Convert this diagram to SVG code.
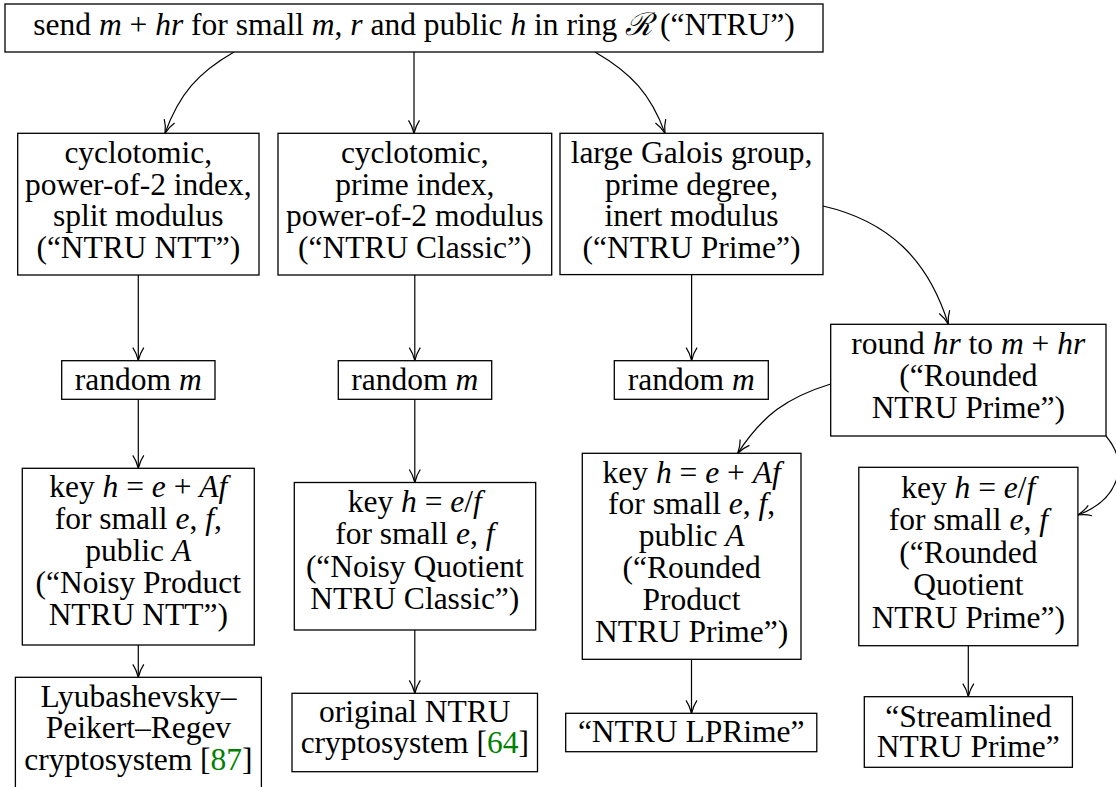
<svg xmlns="http://www.w3.org/2000/svg" width="1116" height="787" viewBox="0 0 1116 787" font-family="'Liberation Serif', 'Times New Roman', Tinos, 'DejaVu Serif', serif">
<style>
rect{fill:#fff;stroke:#000;stroke-width:1.3}
text{font-family:'Liberation Serif','Times New Roman',Tinos,'DejaVu Serif',serif;font-size:31.5px;fill:#000;text-anchor:middle}
.m{font-style:italic}
.cal{font-family:'DejaVu Serif','Liberation Serif',serif;font-style:italic}
.cite{fill:#008000}
.c{fill:none;stroke:#000;stroke-width:1.2}
</style>
<defs>
<marker id="arr" markerUnits="userSpaceOnUse" markerWidth="18" markerHeight="16" viewBox="-15 -8 18 16" refX="0" refY="0" orient="auto">
<path d="M -13 -5.5 C -8 -2 -2.5 -0.6 0 0 C -2.5 0.6 -8 2 -13 5.5" fill="none" stroke="#000" stroke-width="1.2"/>
</marker>
</defs>
<g id="connectors">
<path class="c" marker-end="url(#arr)" d="M234 52 C198 72.7 179.2 94 165 133.3"/>
<path class="c" marker-end="url(#arr)" d="M414 52 L414 133.3"/>
<path class="c" marker-end="url(#arr)" d="M595 52 C631 72.9 650.7 93.8 665 133.3"/>
<path class="c" marker-end="url(#arr)" d="M138.3 275 L138.3 360.7"/>
<path class="c" marker-end="url(#arr)" d="M138.3 399.3 L138.3 468.3"/>
<path class="c" marker-end="url(#arr)" d="M138.3 645 L138.3 677.3"/>
<path class="c" marker-end="url(#arr)" d="M414.8 275 L414.8 360.7"/>
<path class="c" marker-end="url(#arr)" d="M414.8 399.3 L414.8 482.5"/>
<path class="c" marker-end="url(#arr)" d="M414.8 630 L414.8 693.3"/>
<path class="c" marker-end="url(#arr)" d="M691.6 274.6 L691.6 360.7"/>
<path class="c" marker-end="url(#arr)" d="M691.5 659.3 L691.5 713.3"/>
<path class="c" marker-end="url(#arr)" d="M968.3 645.7 L968.3 696.7"/>
<path class="c" marker-end="url(#arr)" d="M823 206 C888.6 221 928.3 259.6 948.3 324.3"/>
<path class="c" marker-end="url(#arr)" d="M830.7 384 C787.3 397.3 762.4 415.2 737.7 453.3"/>
<path class="c" marker-end="url(#arr)" d="M1106 436 C1131.7 466.6 1115.6 501.3 1077.9 515"/>
</g>
<g id="n-top">
<rect x="5" y="4" width="818" height="48"/>
<text x="414" y="35">send <tspan class="m">m</tspan> + <tspan class="m">hr</tspan> for small <tspan class="m">m</tspan>, <tspan class="m">r</tspan> and public <tspan class="m">h</tspan> in ring <tspan class="cal">ℛ</tspan> (“NTRU”)</text>
</g>
<g id="n-ntt">
<rect x="17.7" y="133.3" width="241.3" height="141.7"/>
<text x="138.3" y="163">cyclotomic,</text>
<text x="138.3" y="194.5">power-of-2 index,</text>
<text x="138.3" y="226">split modulus</text>
<text x="138.3" y="257.5">(“NTRU NTT”)</text>
</g>
<g id="n-classic">
<rect x="278" y="133.3" width="273.7" height="141.7"/>
<text x="414.8" y="163">cyclotomic,</text>
<text x="414.8" y="194.5">prime index,</text>
<text x="414.8" y="226">power-of-2 modulus</text>
<text x="414.8" y="257.5">(“NTRU Classic”)</text>
</g>
<g id="n-prime">
<rect x="560" y="133.3" width="263" height="141.3"/>
<text x="691.5" y="163">large Galois group,</text>
<text x="691.5" y="194.5">prime degree,</text>
<text x="691.5" y="226">inert modulus</text>
<text x="691.5" y="257.5">(“NTRU Prime”)</text>
</g>
<g id="n-rand1">
<rect x="61.7" y="360.7" width="153.3" height="38.6"/>
<text x="138.3" y="390">random <tspan class="m">m</tspan></text>
</g>
<g id="n-rand2">
<rect x="338.3" y="360.7" width="153.4" height="38.6"/>
<text x="414.8" y="390">random <tspan class="m">m</tspan></text>
</g>
<g id="n-rand3">
<rect x="614.3" y="360.7" width="154" height="38.6"/>
<text x="691.3" y="390">random <tspan class="m">m</tspan></text>
</g>
<g id="n-round">
<rect x="830.7" y="324.3" width="275.3" height="111.7"/>
<text x="968.3" y="354">round <tspan class="m">hr</tspan> to <tspan class="m">m</tspan> + <tspan class="m">hr</tspan></text>
<text x="968.3" y="386">(“Rounded</text>
<text x="968.3" y="418">NTRU Prime”)</text>
</g>
<g id="n-key1">
<rect x="22.3" y="468.3" width="232" height="176.7"/>
<text x="138.3" y="497">key <tspan class="m">h</tspan> = <tspan class="m">e</tspan> + <tspan class="m">Af</tspan></text>
<text x="138.3" y="529">for small <tspan class="m">e</tspan>, <tspan class="m">f</tspan>,</text>
<text x="138.3" y="561">public <tspan class="m">A</tspan></text>
<text x="138.3" y="593">(“Noisy Product</text>
<text x="138.3" y="625">NTRU NTT”)</text>
</g>
<g id="n-key2">
<rect x="294.3" y="482.5" width="241.4" height="147.5"/>
<text x="414.8" y="512">key <tspan class="m">h</tspan> = <tspan class="m">e</tspan>/<tspan class="m">f</tspan></text>
<text x="414.8" y="544">for small <tspan class="m">e</tspan>, <tspan class="m">f</tspan></text>
<text x="414.8" y="576.5">(“Noisy Quotient</text>
<text x="414.8" y="609">NTRU Classic”)</text>
</g>
<g id="n-key3">
<rect x="582.3" y="453.3" width="218.7" height="206"/>
<text x="691.6" y="482.5">key <tspan class="m">h</tspan> = <tspan class="m">e</tspan> + <tspan class="m">Af</tspan></text>
<text x="691.6" y="514">for small <tspan class="m">e</tspan>, <tspan class="m">f</tspan>,</text>
<text x="691.6" y="546">public <tspan class="m">A</tspan></text>
<text x="691.6" y="578">(“Rounded</text>
<text x="691.6" y="610">Product</text>
<text x="691.6" y="642">NTRU Prime”)</text>
</g>
<g id="n-key4">
<rect x="858.8" y="467.3" width="219.1" height="178.4"/>
<text x="968.3" y="497.5">key <tspan class="m">h</tspan> = <tspan class="m">e</tspan>/<tspan class="m">f</tspan></text>
<text x="968.3" y="530">for small <tspan class="m">e</tspan>, <tspan class="m">f</tspan></text>
<text x="968.3" y="562.5">(“Rounded</text>
<text x="968.3" y="595">Quotient</text>
<text x="968.3" y="627.5">NTRU Prime”)</text>
</g>
<g id="n-lpr">
<rect x="15.4" y="677.3" width="246" height="130"/>
<text x="138.4" y="706.5">Lyubashevsky–</text>
<text x="138.4" y="738.3">Peikert–Regev</text>
<text x="138.4" y="770">cryptosystem [<tspan class="cite">87</tspan>]</text>
</g>
<g id="n-orig">
<rect x="292" y="693.3" width="245.5" height="78.4"/>
<text x="414.8" y="721.7">original NTRU</text>
<text x="414.8" y="753.3">cryptosystem [<tspan class="cite">64</tspan>]</text>
</g>
<g id="n-lprime">
<rect x="565.7" y="713.3" width="251.1" height="38.4"/>
<text x="691.2" y="741.7">“NTRU LPRime”</text>
</g>
<g id="n-stream">
<rect x="864.3" y="696.7" width="208.1" height="70.6"/>
<text x="968.3" y="726.7">“Streamlined</text>
<text x="968.3" y="757">NTRU Prime”</text>
</g>
</svg>
